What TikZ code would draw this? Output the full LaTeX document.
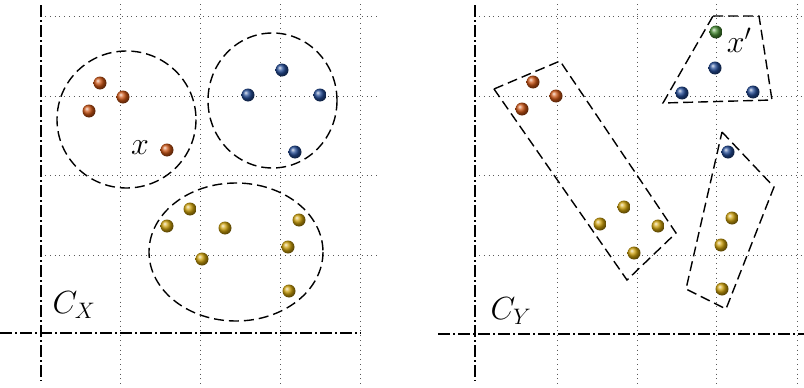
\RequirePackage{fix-cm}
\documentclass[tikz,border=0pt]{standalone}
\begin{document}
\begin{tikzpicture}[x=1pt,y=-1pt,
  griddot/.style={line width=0.7pt, dash pattern=on 0.8pt off 4pt, black!65},
  axisline/.style={line width=1.3pt, dash pattern=on 12pt off 3pt on 2pt off 3pt},
  clus/.style={line width=1.4pt, dash pattern=on 10pt off 5pt},
  ball/.style={circle, inner sep=0pt, minimum size=13pt, shading=ball, ball color=#1},
  lab/.style={inner sep=0pt, font=\fontsize{32}{36}\selectfont}]
\definecolor{cor}{RGB}{205,85,20}
\definecolor{cbl}{RGB}{35,75,150}
\definecolor{cye}{RGB}{205,160,10}
\definecolor{cgr}{RGB}{70,140,50}
\useasboundingbox (0,0) rectangle (804,388);
% ---------- left panel grid
\foreach \yy in {16,96,175,255} \draw[griddot] (45,\yy) -- (378,\yy);
\foreach \xx in {120,200,280,360} \draw[griddot] (\xx,4) -- (\xx,386);
% ---------- right panel grid
\foreach \yy in {16,96,175,255} \draw[griddot] (479,\yy) -- (804,\yy);
\foreach \xx in {557,637,716,797} \draw[griddot] (\xx,4) -- (\xx,386);
% ---------- axes
\coordinate (lxa) at (41,5); \coordinate (lxb) at (41,381);
\coordinate (lya) at (0,333); \coordinate (lyb) at (361,333);
\draw[axisline] (lxa) -- (lxb);
\draw[axisline] (lya) -- (lyb);
\coordinate (rxa) at (475,5); \coordinate (rxb) at (475,381);
\coordinate (rya) at (438,334); \coordinate (ryb) at (804,334);
\draw[axisline] (rxa) -- (rxb);
\draw[axisline] (rya) -- (ryb);
% ---------- left clusters
\draw[clus] (126.5,119.5) ellipse [x radius=69.5, y radius=68.5];
\draw[clus] (272.5,100.5) ellipse [x radius=64.5, y radius=67.5];
\draw[clus] (236,252) ellipse [x radius=87, y radius=69];
\node[ball=cor] (lo1) at (100,83) {};
\node[ball=cor] (lo2) at (123,97) {};
\node[ball=cor] (lo3) at (89,111) {};
\node[ball=cor] (lo4) at (167,150) {};
\node[lab] (lx) at (140,148) {$x$};
\node[ball=cbl] (lb1) at (282,70) {};
\node[ball=cbl] (lb2) at (248,95) {};
\node[ball=cbl] (lb3) at (320,95) {};
\node[ball=cbl] (lb4) at (295,152) {};
\node[ball=cye] (ly1) at (190,209) {};
\node[ball=cye] (ly2) at (167,226) {};
\node[ball=cye] (ly3) at (225,228) {};
\node[ball=cye] (ly4) at (299,220) {};
\node[ball=cye] (ly5) at (288,247) {};
\node[ball=cye] (ly6) at (202,259) {};
\node[ball=cye] (ly7) at (289,291) {};
\node[lab] (lcx) at (74,305) {$C_X$};
% ---------- right clusters
\draw[clus] (713,16) -- (759,16) -- (772,100) -- (663,103) -- cycle;
\draw[clus] (494,89) -- (560,61) -- (676,233) -- (627,280) -- cycle;
\draw[clus] (722,132) -- (774,187) -- (726,309) -- (686,289) -- cycle;
\node[ball=cgr] (rg1) at (716,32) {};
\node[lab] (rx) at (739,40) {$x'$};
\node[ball=cbl] (rb1) at (715,68) {};
\node[ball=cbl] (rb2) at (682,93) {};
\node[ball=cbl] (rb3) at (753,92) {};
\node[ball=cor] (ro1) at (533,82) {};
\node[ball=cor] (ro2) at (556,96) {};
\node[ball=cor] (ro3) at (522,109) {};
\node[ball=cye] (ry1) at (624,207) {};
\node[ball=cye] (ry2) at (600,224) {};
\node[ball=cye] (ry3) at (658,226) {};
\node[ball=cye] (ry4) at (634,253) {};
\node[ball=cbl] (rb4) at (728,152) {};
\node[ball=cye] (ry5) at (732,218) {};
\node[ball=cye] (ry6) at (721,245) {};
\node[ball=cye] (ry7) at (722,289) {};
\node[lab] (rcy) at (511,311) {$C_Y$};
\end{tikzpicture}
\end{document}
